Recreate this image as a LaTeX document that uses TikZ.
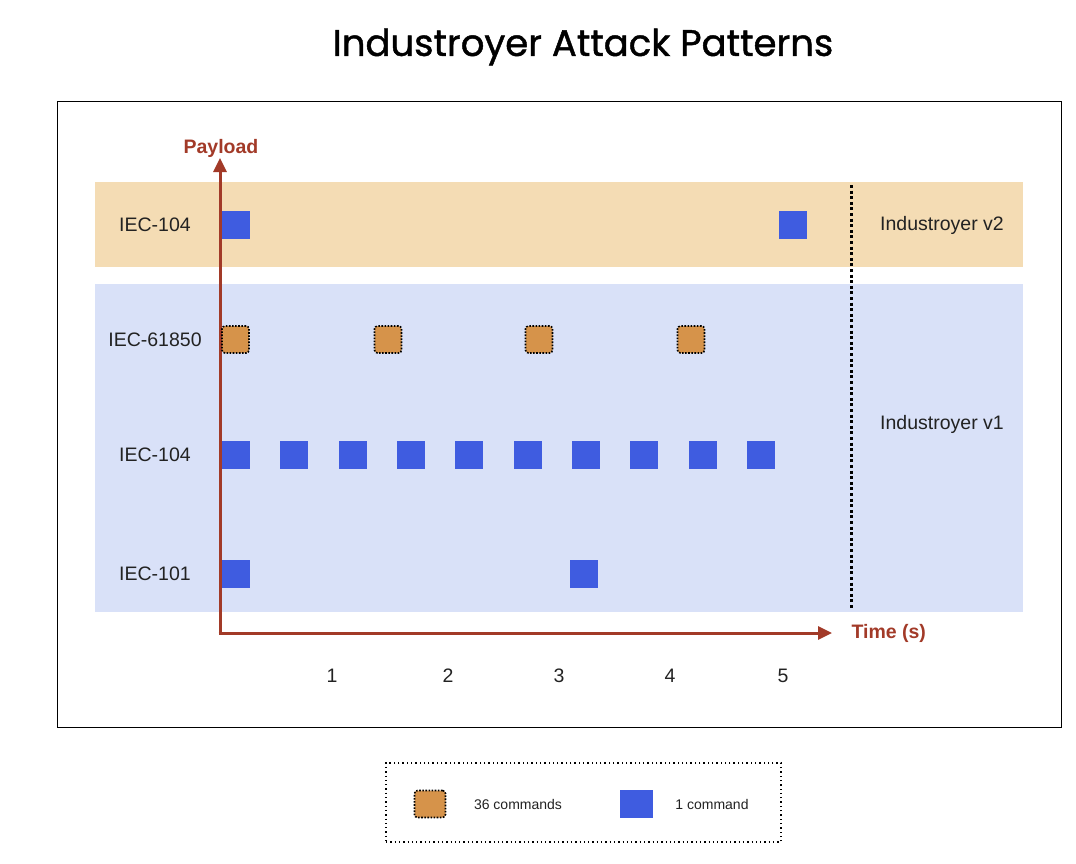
\documentclass[tikz,border=0pt]{standalone}
\usepackage{fontspec}
\setmainfont{Liberation Sans}
\newfontfamily\titlefont[FakeBold=1.2]{Poppins}
\usepackage{xcolor}
\usetikzlibrary{arrows.meta, positioning}
\definecolor{bandtwo}{HTML}{F4DCB4}
\definecolor{bandone}{HTML}{D9E1F8}
\definecolor{cmdblue}{HTML}{3F5CE0}
\definecolor{cmdorange}{HTML}{D6934A}
\definecolor{axisred}{HTML}{A23A28}
\definecolor{txtgray}{HTML}{222222}
\tikzset{
  %% Version band behind the rows
  band/.style={
    rectangle, fill=#1, draw=none,
    minimum width=928pt, inner sep=0pt
  },
  band/.default=bandone,
  %% Single command
  onecmd/.style={
    rectangle, fill=cmdblue, draw=none,
    minimum width=28pt, minimum height=28pt, inner sep=0pt
  },
  %% Batch of commands
  batchcmd/.style={
    rectangle, rounded corners=3pt, fill=cmdorange,
    draw=black, line width=1.6pt, dash pattern=on 1.6pt off 1.5pt,
    minimum width=27pt, minimum height=27pt, inner sep=0pt
  },
  %% Axis arrow
  axarr/.style={-{Triangle[length=14pt,width=13pt]},
                draw=axisred, line width=3pt},
  %% Text labels
  lbl/.style={font=\fontsize{19.5}{23}\selectfont, text=txtgray},
  axlbl/.style={font=\fontsize{19.5}{23}\selectfont\bfseries, text=axisred},
  leglbl/.style={font=\fontsize{14}{17}\selectfont, text=txtgray},
}
\begin{document}
\begin{tikzpicture}[x=1pt, y=-1pt]
  \useasboundingbox (0,0) rectangle (1076,863);

  \node[font=\titlefont\fontsize{37}{44}\selectfont] (title) at (583,47)
       {Industroyer Attack Patterns};

  \draw[line width=1pt] (57,101) rectangle (1061,727);

  %% bands
  \node[band=bandtwo, minimum height=85pt] (v2band) at (559,224.5) {};
  \node[band=bandone, minimum height=328pt] (v1band) at (559,448) {};

  %% axes
  \coordinate (origin) at (220,633);
  \coordinate (ytop) at (220,158);
  \coordinate (xend) at (832,633);
  \draw[axarr] ([yshift=-1.5pt]origin) -- (ytop);
  \draw[axarr] ([xshift=-1.5pt]origin) -- (xend);
  \node[axlbl] (payload) at (221,148) {Payload};
  \node[axlbl, right=16pt of xend] (time) {Time (s)};

  %% version split
  \coordinate (splittop) at (851,185);
  \coordinate (splitbot) at (851,610);
  \draw[line width=3pt, dash pattern=on 3pt off 2.6pt] (splittop) -- (splitbot);

  %% row labels
  \node[lbl] (v2iec104) at (155,225) {IEC-104};
  \node[lbl] (iec61850) at (155,340) {IEC-61850};
  \node[lbl] (iec104) at (155,455) {IEC-104};
  \node[lbl] (iec101) at (155,574) {IEC-101};
  \node[lbl] (v2name) at (942,225) {Industroyer v2};
  \node[lbl] (v1name) at (942,424) {Industroyer v1};

  %% time ticks
  \node[lbl] (t1) at (332,676) {1};
  \node[lbl] (t2) at (448,676) {2};
  \node[lbl] (t3) at (559,676) {3};
  \node[lbl] (t4) at (670,676) {4};
  \node[lbl] (t5) at (783,676) {5};

  %% Industroyer v2, IEC-104
  \node[onecmd] (va) at (236,225) {};
  \node[onecmd] (vb) at (793,225) {};

  %% IEC-61850
  \node[batchcmd] (ma) at (235.5,339.5) {};
  \node[batchcmd] (mb) at (388,339.5) {};
  \node[batchcmd] (mc) at (539,339.5) {};
  \node[batchcmd] (md) at (691,339.5) {};

  %% IEC-104
  \node[onecmd] (ca) at (236,455) {};
  \node[onecmd] (cb) at (294,455) {};
  \node[onecmd] (cc) at (353,455) {};
  \node[onecmd] (cd) at (411,455) {};
  \node[onecmd] (ce) at (469,455) {};
  \node[onecmd] (cf) at (528,455) {};
  \node[onecmd] (cg) at (586,455) {};
  \node[onecmd] (ch) at (644,455) {};
  \node[onecmd] (ci) at (703,455) {};
  \node[onecmd] (cj) at (761,455) {};

  %% IEC-101
  \node[onecmd] (sa) at (236,574) {};
  \node[onecmd] (sb) at (584,574) {};

  %% legend
  \node[rectangle, draw=black, line width=1.3pt,
        dash pattern=on 1.3pt off 3pt,
        minimum width=395pt, minimum height=79pt] (legend) at (583.5,802.5) {};
  \node[batchcmd, minimum width=31pt] (legbatch) at (430,804) {};
  \node[leglbl] (legbatchtxt) at (518,804) {36 commands};
  \node[onecmd, minimum width=33pt] (legone) at (636,804) {};
  \node[leglbl] (legonetxt) at (712,804) {1 command};

\end{tikzpicture}
\end{document}
